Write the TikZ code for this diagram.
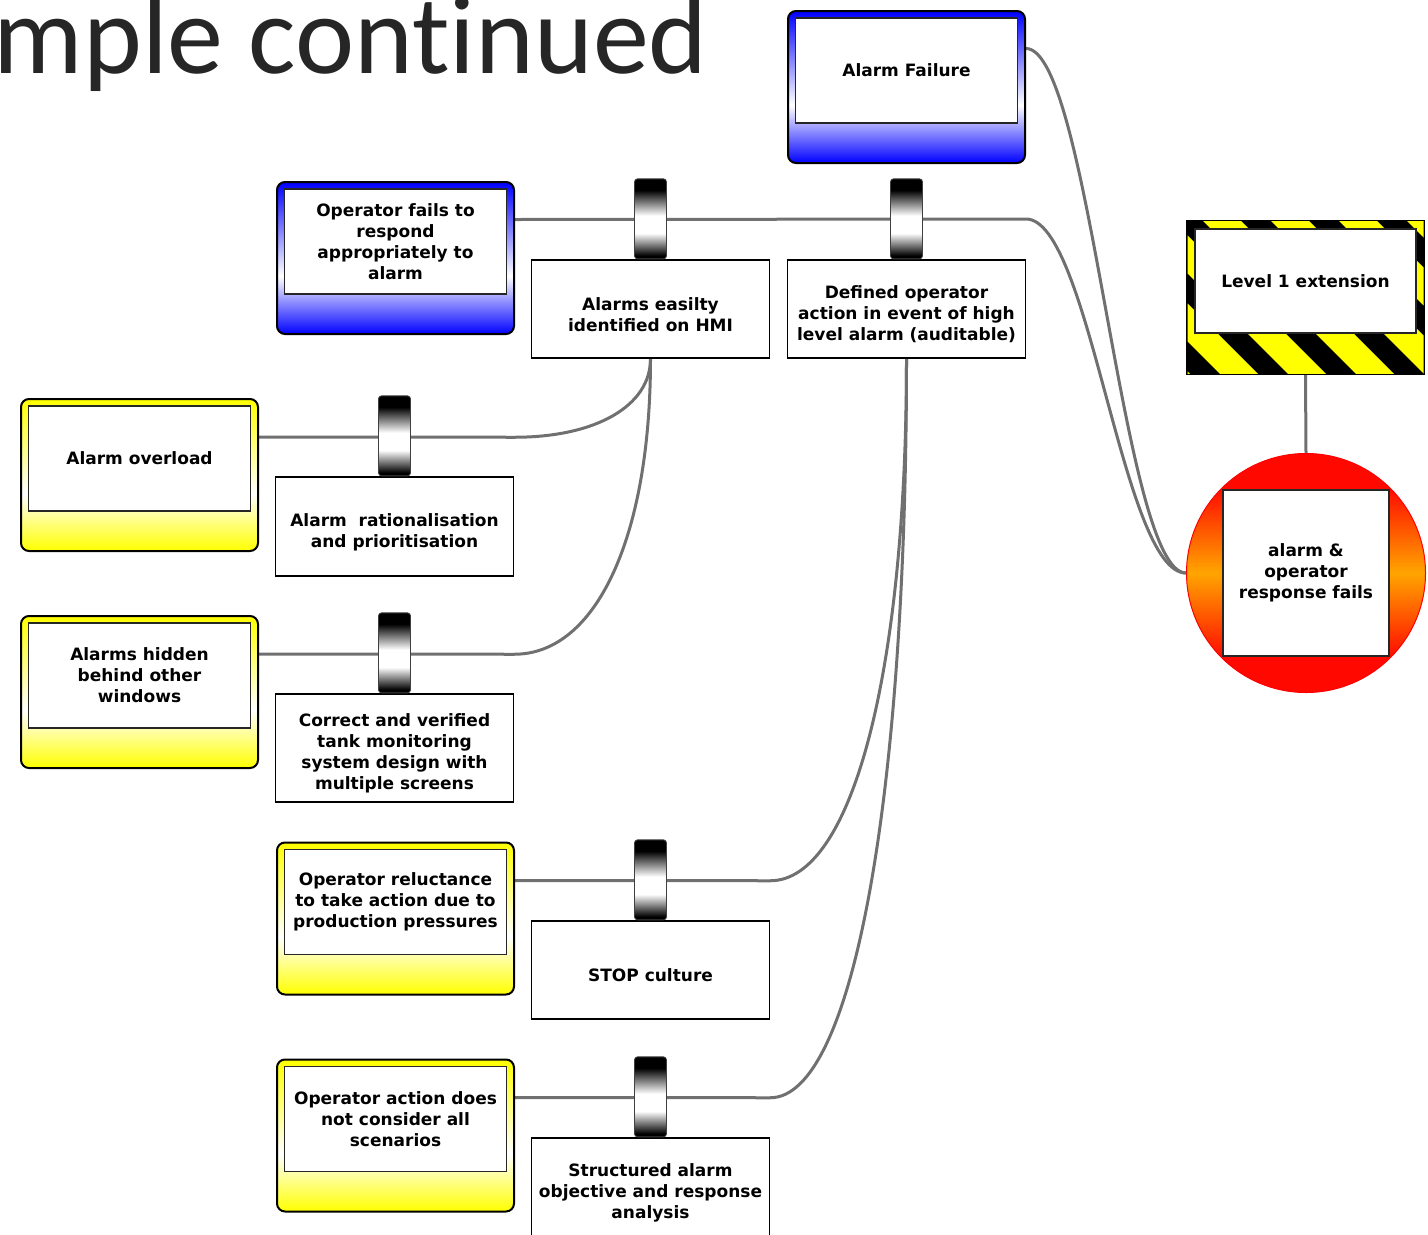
\documentclass[tikz,border=0pt]{standalone}
\usepackage{fontspec}
\newfontfamily\boxfont{DejaVu Sans}
\newfontfamily\titlefont{Carlito}[Ligatures=NoCommon]

\definecolor{caseblue}{RGB}{0,0,255}
\definecolor{caseyellow}{RGB}{255,255,0}
\definecolor{firered}{RGB}{255,8,0}
\definecolor{fireorange}{RGB}{255,165,0}
\definecolor{wiregray}{RGB}{112,112,112}
\definecolor{titlegray}{RGB}{38,38,38}

% vertical colour bands: the path box is mapped onto 25bp..75bp
\pgfdeclareverticalshading{bluecase}{100bp}{color(0bp)=(caseblue); color(25bp)=(caseblue); color(44bp)=(white); color(75bp)=(caseblue); color(100bp)=(caseblue)}
\pgfdeclareverticalshading{yellowcase}{100bp}{color(0bp)=(caseyellow); color(25bp)=(caseyellow); color(44bp)=(white); color(75bp)=(caseyellow); color(100bp)=(caseyellow)}
\pgfdeclareverticalshading{eventfire}{100bp}{color(0bp)=(firered); color(32bp)=(firered); color(50bp)=(fireorange); color(68bp)=(firered); color(100bp)=(firered)}
\pgfdeclareverticalshading{barrel}{100bp}{color(0bp)=(black); color(27bp)=(black); color(41bp)=(white); color(52bp)=(white); color(68bp)=(black); color(100bp)=(black)}

\pgfdeclarelayer{wires}
\pgfsetlayers{wires,main}

\tikzset{
  lbl/.style={font=\boxfont\bfseries\fontsize{17}{21}\selectfont, align=center, text=black, inner sep=0pt},
  threatcase/.style={rounded corners=8pt, draw=black, line width=2pt, minimum width=237pt, minimum height=152pt, inner sep=0pt, shade, shading=#1},
  face/.style={lbl, fill=white, draw=black!85, line width=1.5pt, minimum width=222pt, minimum height=105pt},
  guard/.style={fill=white, draw=black, line width=1.5pt, minimum width=238pt, inner sep=0pt},
  barrelnode/.style={shade, shading=barrel, draw=black!75, line width=0.8pt, rounded corners=3pt, minimum width=32pt, minimum height=80pt, inner sep=0pt, anchor=south},
  wire/.style={draw=wiregray, line width=3pt},
}

\begin{document}
\begin{tikzpicture}[x=1pt, y=-1pt]
\useasboundingbox (0,0) rectangle (1428,1235);

% heading
\node[font=\titlefont\fontsize{112}{112}\selectfont, text=titlegray, anchor=base east, inner sep=0pt] (title) at (708,73) {mple continued};

% threats and escalation factors
\node[threatcase=bluecase] (afail) at (906.5,87) {};
\node[face] (afail-t) at ([yshift=-60.5pt]afail.north) {Alarm Failure};

\node[threatcase=bluecase] (ofail) at (395.5,258) {};
\node[face] (ofail-t) at ([yshift=-60.5pt]ofail.north) {Operator fails to\\respond\\appropriately to\\alarm};

\node[threatcase=yellowcase] (aover) at (139.5,475) {};
\node[face] (aover-t) at ([yshift=-60.5pt]aover.north) {Alarm overload};

\node[threatcase=yellowcase] (ahide) at (139.5,692) {};
\node[face] (ahide-t) at ([yshift=-60.5pt]ahide.north) {Alarms hidden\\behind other\\windows};

\node[threatcase=yellowcase] (orel) at (395.5,918.5) {};
\node[face] (orel-t) at ([yshift=-60.5pt]orel.north) {Operator reluctance\\to take action due to\\production pressures};

\node[threatcase=yellowcase] (oact) at (395.5,1135.5) {};
\node[face] (oact-t) at ([yshift=-60.5pt]oact.north) {Operator action does\\not consider all\\scenarios};

% barriers
\node[guard, minimum height=98pt] (hmi) at (650.5,309) {};
\node[lbl] (hmi-t) at ([yshift=-5.5pt]hmi.center) {Alarms easilty\\identified on HMI};
\node[barrelnode] (hmi-c) at (hmi.north) {};

\node[guard, minimum height=98pt] (defop) at (906.5,309) {};
\node[lbl] (defop-t) at ([yshift=-5.5pt]defop.center) {Defined operator\\action in event of high\\level alarm (auditable)};
\node[barrelnode] (defop-c) at (defop.north) {};

\node[guard, minimum height=99pt] (ratio) at (394.5,526.5) {};
\node[lbl] (ratio-t) at ([yshift=-5.5pt]ratio.center) {Alarm\ \ rationalisation\\and prioritisation};
\node[barrelnode] (ratio-c) at (ratio.north) {};

\node[guard, minimum height=108pt] (tank) at (394.5,748) {};
\node[lbl] (tank-t) at ([yshift=-5.5pt]tank.center) {Correct and verified\\tank monitoring\\system design with\\multiple screens};
\node[barrelnode] (tank-c) at (tank.north) {};

\node[guard, minimum height=98pt] (stop) at (650.5,970) {};
\node[lbl] (stop-t) at ([yshift=-5.5pt]stop.center) {STOP culture};
\node[barrelnode] (stop-c) at (stop.north) {};

\node[guard, minimum height=98pt] (sarc) at (650.5,1187) {};
\node[lbl] (sarc-t) at ([yshift=-5.5pt]sarc.center) {Structured alarm\\objective and response\\analysis};
\node[barrelnode] (sarc-c) at (sarc.north) {};

% escalation: hazard striped frame
\node[draw=black, fill=black, line width=2pt, minimum width=237pt, minimum height=153pt, inner sep=0pt] (haz) at (1305.5,297.5) {};
\begin{scope}
  \clip ([xshift=1.5pt,yshift=-1.5pt]haz.north west) rectangle ([xshift=-1.5pt,yshift=1.5pt]haz.south east);
  \foreach \k in {10,...,18}
    \fill[caseyellow] (245+68*\k,215) -- ++(38,0) -- ++(165,165) -- ++(-38,0) -- cycle;
\end{scope}
\node[face, minimum width=221pt, minimum height=104pt] (haz-t) at (1305.5,281) {Level 1 extension};

% top event
\node[circle, minimum size=239pt, inner sep=0pt, draw=red, line width=1pt, shade, shading=eventfire] (event) at (1306,573) {};
\node[face, minimum width=166pt, minimum height=166pt] (event-t) at (event.center) {alarm \&\\operator\\response fails};

% junction points at the barrier edges
\coordinate (j-ofail) at (1026,219);
\coordinate (j-aover) at (ratio.east |- aover-t.north);
\coordinate (j-ahide) at (tank.east |- ahide-t.north);
\coordinate (j-orel) at (stop.east |- orel-t.north);
\coordinate (j-oact) at (sarc.east |- oact-t.north);

\begin{pgfonlayer}{wires}
  \draw[wire] ([yshift=-38.5pt]afail.north east) .. controls +(64,0) and +(-64,0) .. (event.west);
  \draw[wire] ([yshift=-38.5pt]ofail.north east) -- (j-ofail) .. controls +(64,0) and +(-64,0) .. (event.west);
  \draw[wire] ([yshift=-39pt]aover.north east) -- ([yshift=-32pt]j-aover) .. controls +(82,0) and +(0,47) .. (hmi.south);
  \draw[wire] ([yshift=-39pt]ahide.north east) -- ([yshift=-32pt]j-ahide) .. controls +(82,0) and +(0,178) .. (hmi.south);
  \draw[wire] ([yshift=-39pt]orel.north east) -- ([yshift=-32pt]j-orel) .. controls +(82,0) and +(0,313) .. (defop.south);
  \draw[wire] ([yshift=-39pt]oact.north east) -- ([yshift=-32pt]j-oact) .. controls +(82,0) and +(0,443) .. (defop.south);
  \draw[wire] (haz.south) -- (event.north);
\end{pgfonlayer}
\end{tikzpicture}
\end{document}
